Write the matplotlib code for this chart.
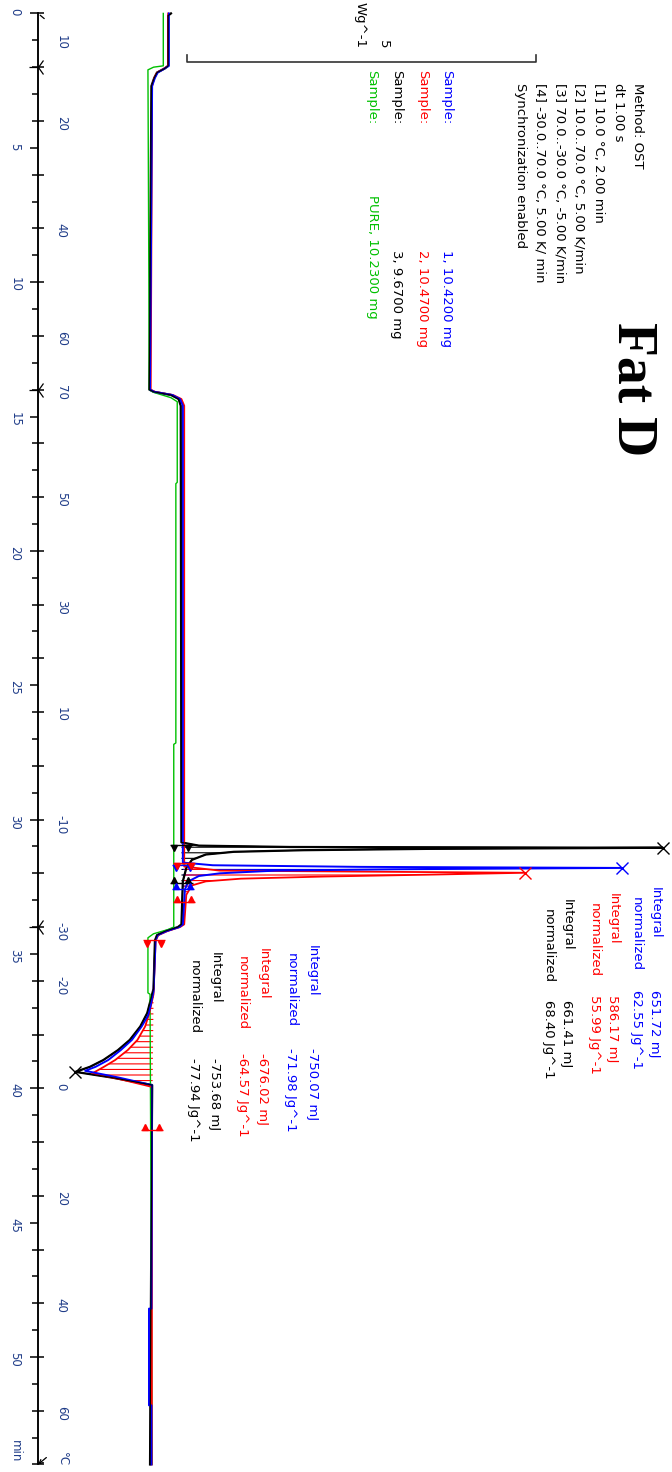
import numpy as np
import matplotlib
matplotlib.use('Agg')
import matplotlib.pyplot as plt
from matplotlib.ticker import FixedLocator, FixedFormatter, MultipleLocator

# ---- data (time in min, heat flow in W/g, exo to the right) ----
T_BLACK = [0.0, 0.08, 1.95, 2.05, 2.2, 2.4, 2.7, 14.0, 14.08, 14.2, 14.35, 14.6,
           30.85, 30.97, 31.02, 31.05, 31.09, 31.14, 31.2, 31.3, 31.5, 31.8, 32.3,
           33.9, 34.0, 34.15, 34.3, 34.5, 36.3, 36.8, 37.2, 37.7, 38.2, 38.58,
           38.95, 39.2, 39.39, 39.6, 39.88, 54.0]
HF_BLACK = [0.30, 0.26, 0.26, 0.21, 0.10, 0.06, 0.02, -0.01, 0.05, 0.30, 0.41, 0.44,
            0.45, 0.70, 2.0, 7.35, 4.0, 2.2, 1.2, 0.8, 0.6, 0.52, 0.47,
            0.45, 0.40, 0.22, 0.10, 0.07, 0.05, 0.0, -0.04, -0.14, -0.29, -0.46,
            -0.67, -0.86, -1.07, -0.55, 0.03, 0.0]

T_BLUE = [0.0, 1.95, 2.05, 2.2, 2.4, 2.7, 14.0, 14.08, 14.2, 14.35, 14.6,
          31.6, 31.7, 31.76, 31.8, 31.85, 31.9, 32.0, 32.1, 32.3, 32.6,
          33.9, 34.0, 34.15, 34.3, 34.5, 36.4, 36.9, 37.3, 37.7, 38.2, 38.58,
          38.95, 39.2, 39.35, 39.6, 39.88, 48.2, 48.2, 51.8, 51.8, 54.0]
HF_BLUE = [0.27, 0.27, 0.21, 0.11, 0.07, 0.03, 0.0, 0.06, 0.32, 0.43, 0.47,
           0.47, 0.9, 3.0, 6.76, 3.5, 1.8, 1.0, 0.7, 0.55, 0.5,
           0.47, 0.42, 0.24, 0.11, 0.08, 0.05, 0.01, -0.03, -0.12, -0.26, -0.42,
           -0.60, -0.78, -0.93, -0.45, 0.03, 0.02, -0.015, -0.015, 0.02, 0.02]

T_RED = [0.0, 1.95, 2.05, 2.2, 2.4, 2.7, 14.0, 14.08, 14.2, 14.35, 14.6,
         31.75, 31.9, 31.98, 32.05, 32.12, 32.2, 32.3, 32.45, 32.8,
         33.9, 34.0, 34.15, 34.3, 34.5, 36.5, 37.2, 37.7, 38.2, 38.58,
         38.95, 39.2, 39.45, 39.65, 39.95, 54.0]
HF_RED = [0.26, 0.26, 0.20, 0.10, 0.06, 0.03, 0.01, 0.07, 0.33, 0.45, 0.49,
          0.49, 1.0, 5.37, 4.0, 2.5, 1.3, 0.8, 0.6, 0.52,
          0.49, 0.43, 0.25, 0.12, 0.08, 0.05, -0.01, -0.07, -0.18, -0.32,
          -0.50, -0.66, -0.83, -0.45, 0.03, 0.025]

T_GREEN = [0.0, 1.95, 2.0, 2.1, 14.0, 14.1, 14.3, 14.45, 17.45, 17.5, 27.15, 27.2,
           34.0, 34.1, 34.25, 34.4, 36.45, 36.5, 54.0]
HF_GREEN = [0.19, 0.19, 0.05, -0.03, -0.01, 0.05, 0.30, 0.39, 0.39, 0.37, 0.37, 0.34,
            0.34, 0.25, 0.05, -0.03, -0.03, 0.0, 0.03]

# integration limits (time, heat flow) per peak
LIM_BLACK = ([30.93, 32.36], [0.45, 0.45])
LIM_BLUE = ([31.7, 32.6], [0.47, 0.47])
LIM_RED = ([31.6, 33.07], [0.49, 0.49])
LIM_RED_MELT = ([34.5, 41.55], [0.06, 0.03])

TIME_LABELS = [0, 5, 10, 15, 20, 25, 30, 35, 40, 45, 50]
TEMP_TICK_T = [1, 4, 8, 12, 14, 18, 22, 26, 30, 34, 36, 40, 44, 48, 52]
TEMP_TICK_LABELS = ['10', '20', '40', '60', '70', '50', '30', '10', '-10', '-30',
                    '-20', '0', '20', '40', '60']
SEGMENT_T = [2, 14, 34]
T_END = 54
SCALE_WG = 5

METHOD_LINES = ['Method: OST', 'dt 1.00 s', '[1] 10.0 °C, 2.00 min',
                '[2] 10.0..70.0 °C, 5.00 K/min', '[3] 70.0..-30.0 °C, -5.00 K/min',
                '[4] -30.0..70.0 °C, 5.00 K/ min', 'Synchronization enabled']
SAMPLES = ['1, 10.4200 mg', '2, 10.4700 mg', '3, 9.6700 mg', 'PURE, 10.2300 mg']
CRYST_INT = [('651.72 mJ', '62.55 Jg^-1'), ('586.17 mJ', '55.99 Jg^-1'),
             ('661.41 mJ', '68.40 Jg^-1')]
MELT_INT = [('-750.07 mJ', '-71.98 Jg^-1'), ('-676.02 mJ', '-64.57 Jg^-1'),
            ('-753.68 mJ', '-77.94 Jg^-1')]

BLUE, RED, GREEN, BLACK = '#0000ff', '#ff0000', '#00c000', '#000000'
TICKC = '#1f3c88'
W, H = 672, 1472
XLIM = (-2.15, 7.48)
YLIM = (54.28, -0.50)
AXIS_HF = -1.605

plt.rcParams['hatch.linewidth'] = 0.8
fig = plt.figure(figsize=(W / 100, H / 100), dpi=100)
ax = fig.add_axes([0, 0, 1, 1])
ax.set_xlim(*XLIM)
ax.set_ylim(*YLIM)
ax.xaxis.set_visible(False)
for s in ['top', 'right', 'bottom']:
    ax.spines[s].set_visible(False)
ax.spines['left'].set_position(('data', AXIS_HF))
ax.spines['left'].set_bounds(0, T_END)
ax.spines['left'].set_linewidth(1.1)

# time ticks (left side)
ax.yaxis.set_major_locator(FixedLocator(TIME_LABELS))
ax.yaxis.set_major_formatter(FixedFormatter([str(v) for v in TIME_LABELS]))
ax.yaxis.set_minor_locator(MultipleLocator(1))
ax.tick_params(axis='y', which='major', length=5.5, width=1.1, pad=6.5,
               labelsize=8.5, labelcolor=TICKC, labelrotation=270)
ax.tick_params(axis='y', which='minor', length=4, width=1.1)

# temperature ticks (right side of the same line): ticks every 2 min, labels at set temps
ax2 = ax.twinx()
ax2.set_ylim(*YLIM)
for s in ['top', 'left', 'bottom']:
    ax2.spines[s].set_visible(False)
ax2.spines['right'].set_position(('data', AXIS_HF))
ax2.spines['right'].set_bounds(0, T_END)
ax2.spines['right'].set_linewidth(1.1)
ax2.yaxis.remove_overlapping_locs = False
ax2.yaxis.set_major_locator(FixedLocator(TEMP_TICK_T))
ax2.yaxis.set_major_formatter(FixedFormatter(TEMP_TICK_LABELS))
ax2.yaxis.set_minor_locator(MultipleLocator(2))
ax2.tick_params(axis='y', which='major', length=0, pad=12,
                labelsize=8.5, labelcolor=TICKC, labelrotation=270)
ax2.tick_params(axis='y', which='minor', length=4.5, width=1.1)

# segment markers on the axis
ax.plot([AXIS_HF] * len(SEGMENT_T), SEGMENT_T, ls='none', marker='3', ms=13,
        mew=0.9, color='k', clip_on=False)
ax.annotate('', xy=(AXIS_HF, 0), xytext=(6, -5), textcoords='offset points',
            arrowprops=dict(arrowstyle='-', lw=0.9, color='k'))
ax.annotate('', xy=(AXIS_HF, T_END), xytext=(6, 5), textcoords='offset points',
            arrowprops=dict(arrowstyle='->', lw=0.9, color='k',
                            shrinkA=0, shrinkB=0, mutation_scale=7))


# hatched integration areas
def hatch_peak(t, hf, lim, color):
    t = np.array(t)
    hf = np.array(hf)
    m = (t >= lim[0][0]) & (t <= lim[0][1])
    base = np.interp(t[m], lim[0], lim[1])
    ax.fill_betweenx(t[m], hf[m], base, facecolor='none', edgecolor=color,
                     hatch='---', linewidth=0, zorder=2)


hatch_peak(T_RED, HF_RED, LIM_RED_MELT, RED)
hatch_peak(T_BLACK, HF_BLACK, LIM_BLACK, BLACK)
hatch_peak(T_BLUE, HF_BLUE, LIM_BLUE, BLUE)
hatch_peak(T_RED, HF_RED, LIM_RED, RED)

# curves
ax.plot(HF_BLACK, T_BLACK, color=BLACK, lw=1.6, zorder=3)
ax.plot(HF_GREEN, T_GREEN, color=GREEN, lw=1.0, zorder=4)
ax.plot(HF_RED, T_RED, color=RED, lw=1.3, zorder=5)
ax.plot(HF_BLUE, T_BLUE, color=BLUE, lw=1.4, zorder=6)
ax.plot(HF_BLACK, T_BLACK, color=BLACK, lw=0.8, zorder=7)

# peak markers
for t, hf, c in [(T_BLACK, HF_BLACK, BLACK), (T_BLUE, HF_BLUE, BLUE), (T_RED, HF_RED, RED)]:
    i = int(np.argmax(hf))
    ax.plot(hf[i], t[i], marker='x', ms=8, mew=1.0, color=c, zorder=8)
i = int(np.argmin(HF_BLACK))
ax.plot(HF_BLACK[i], T_BLACK[i], marker='x', ms=8, mew=1.0, color=BLACK, zorder=8)

# integration limit markers
for lim, c in [(LIM_BLACK, BLACK), (LIM_BLUE, BLUE), (LIM_RED, RED), (LIM_RED_MELT, RED)]:
    for k, (t, hf) in enumerate(zip(*lim)):
        ax.hlines(t, hf - 0.16, hf + 0.16, color=c, lw=1.0, zorder=8)
        mk = 'v' if k == 0 else '^'
        dt = 0.12 if k == 0 else -0.12
        ax.plot([hf - 0.1, hf + 0.1], [t + dt, t + dt], ls='none', marker=mk,
                ms=4.5, color=c, zorder=8)

# scale bar
SB_T, SB_X0 = 1.80, 0.53
ax.plot([SB_X0, SB_X0, SB_X0 + SCALE_WG, SB_X0 + SCALE_WG],
        [SB_T - 0.25, SB_T, SB_T, SB_T - 0.25], color='#333333', lw=1.2)


def txt(xp, yp, s, color='k', size=9.5, ha='left', **kw):
    fig.text(xp / W, 1 - yp / H, s, rotation=270, rotation_mode='anchor',
             ha=ha, va='center', color=color, fontsize=size, **kw)


txt(383, 48, str(SCALE_WG), ha='right')
txt(360, 48, 'Wg^-1', ha='right')

# title
txt(633, 322, 'Fat D', size=40, family='Liberation Serif', fontweight='bold')

# method block
for j, line in enumerate(METHOD_LINES):
    txt(638 - j * 19.6, 83, line)

# sample lines
for xp, c, s in zip([447, 423, 397, 372], [BLUE, RED, BLACK, GREEN], SAMPLES):
    txt(xp, 70, 'Sample:', color=c)
    txt(xp, 195 if s.startswith('PURE') else 250, s, color=c)

# crystallization integrals
for k, (c, (a, b)) in enumerate(zip([BLUE, RED, BLACK], CRYST_INT)):
    x0 = [655, 613, 567][k]
    txt(x0, 887 + 6 * k, 'Integral', color=c)
    txt(x0, 990 + 5 * k, a, color=c)
    txt(x0 - 19, 897 + 6 * k, 'normalized', color=c)
    txt(x0 - 19, 990 + 5 * k, b, color=c)

# melting integrals
for k, (c, (a, b)) in enumerate(zip([BLUE, RED, BLACK], MELT_INT)):
    x0 = [312, 263, 215][k]
    txt(x0, 945 + 3.5 * k, 'Integral', color=c)
    txt(x0, 1048 + 5 * k, a, color=c)
    txt(x0 - 21, 953 + 3.5 * k, 'normalized', color=c)
    txt(x0 - 21, 1048 + 5 * k, b, color=c)

txt(15, 1462, 'min', color=TICKC, size=8.5, ha='right')
txt(62, 1466, '°C', color=TICKC, size=8.5, ha='right')

fig.savefig('out.png', dpi=100)
